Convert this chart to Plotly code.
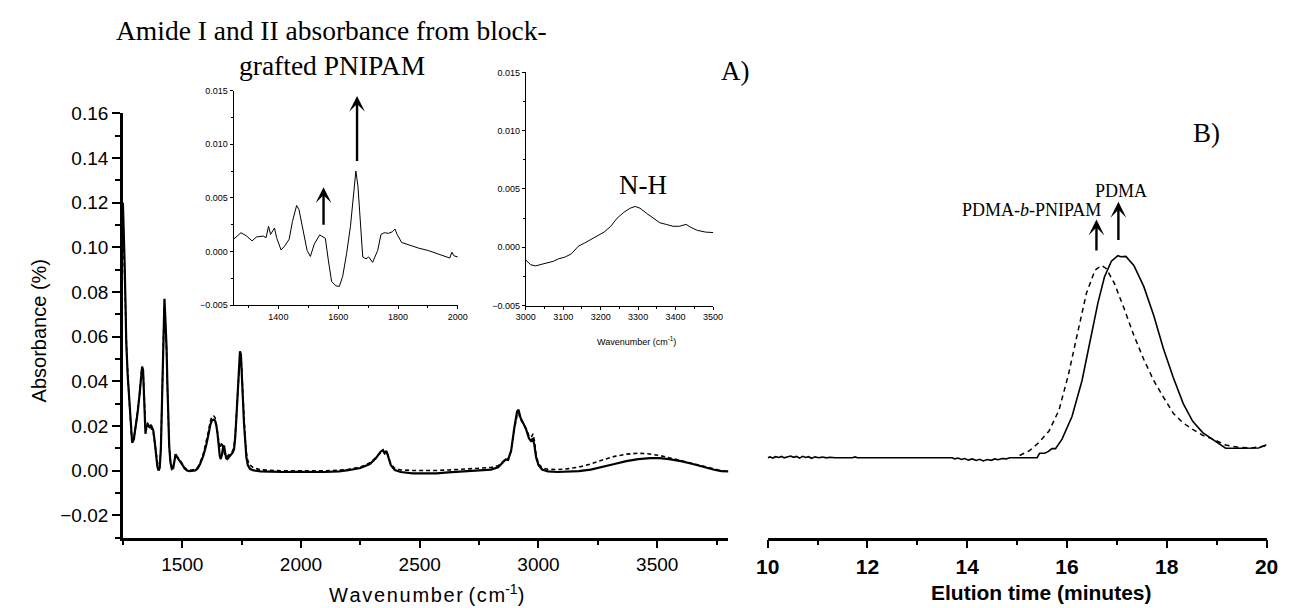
import plotly.graph_objects as go

W, H = 1292, 608

# ---------------- FTIR spectra (main panel A) ----------------
ir_wn_solid = [1250, 1254, 1257, 1261, 1264, 1270, 1277, 1283, 1289, 1296, 1303, 1312, 1320, 1326,
               1331, 1335, 1339, 1343, 1345, 1350, 1356, 1362, 1368, 1373, 1378, 1384, 1389, 1395,
               1400, 1405, 1410, 1414, 1419, 1425, 1428, 1431, 1434, 1437, 1441, 1445, 1450, 1456,
               1462, 1467, 1472, 1477, 1482, 1489, 1495, 1502, 1510, 1520, 1530, 1545, 1555, 1565,
               1575, 1588, 1600, 1610, 1618, 1625, 1632, 1638, 1643, 1648, 1653, 1658, 1662, 1667,
               1672, 1676, 1680, 1685, 1690, 1697, 1705, 1712, 1718, 1723, 1728, 1733, 1738, 1743,
               1747, 1751, 1755, 1760, 1765, 1770, 1776, 1785, 1800, 1830, 1870, 1920, 1980, 2040,
               2100, 2160, 2200, 2250, 2290, 2315, 2335, 2345, 2352, 2360, 2368, 2378, 2395, 2420,
               2470, 2520, 2570, 2620, 2680, 2740, 2800, 2830, 2850, 2862, 2872, 2885, 2898, 2910,
               2916, 2925, 2935, 2948, 2960, 2970, 2976, 2982, 2990, 3000, 3015, 3040, 3080, 3120,
               3170, 3220, 3270, 3320, 3370, 3420, 3470, 3510, 3550, 3600, 3650, 3700, 3740, 3770,
               3800]
ir_abs_solid = [0.120, 0.108, 0.094, 0.075, 0.058, 0.043, 0.030, 0.019, 0.0125, 0.014, 0.019, 0.026,
                0.034, 0.043, 0.0466, 0.045, 0.036, 0.020, 0.0165, 0.0205, 0.0198, 0.0195, 0.0205,
                0.0195, 0.0180, 0.013, 0.0076, 0.002, 0.0001, 0.0012, 0.010, 0.0275, 0.050, 0.077,
                0.070, 0.064, 0.055, 0.040, 0.024, 0.011, 0.004, 0.0008, 0.0012, 0.004, 0.0074,
                0.0062, 0.0055, 0.0046, 0.0036, 0.0024, 0.0010, 0.0001, -0.0002, -0.0001, 0.0001,
                0.001, 0.003, 0.0065, 0.011, 0.016, 0.0205, 0.0225, 0.0228, 0.0225, 0.0205, 0.017,
                0.011, 0.0065, 0.0052, 0.007, 0.0105, 0.0112, 0.0085, 0.0055, 0.0052, 0.0062, 0.0072,
                0.008, 0.0095, 0.015, 0.024, 0.035, 0.047, 0.0535, 0.052, 0.045, 0.033, 0.021, 0.012,
                0.006, 0.0025, 0.0008, 0.0001, -0.0003, -0.0004, -0.0006, -0.0005, -0.0007, -0.0006,
                -0.0003, 0.0002, 0.0012, 0.0030, 0.0055, 0.0085, 0.0092, 0.0078, 0.0088, 0.0060,
                0.0025, 0.0003, -0.0006, -0.0012, -0.0013, -0.0012, -0.0008, -0.0004, -0.0001,
                0.0005, 0.0015, 0.0035, 0.0050, 0.0048, 0.0090, 0.0190, 0.0265, 0.0273, 0.0235,
                0.0215, 0.0185, 0.0145, 0.0130, 0.0145, 0.0120, 0.0060, 0.0025, 0.0005, -0.0003,
                -0.0006, -0.0005, -0.0002, 0.0005, 0.0016, 0.0030, 0.0043, 0.0052, 0.0056, 0.0056,
                0.0052, 0.0043, 0.0030, 0.0015, 0.0004, -0.0002, -0.0003]

ir_wn_dashed = [1250, 1254, 1258, 1262, 1266, 1272, 1279, 1285, 1290, 1297, 1304, 1313, 1321, 1327,
                1331, 1335, 1339, 1343, 1346, 1350, 1356, 1362, 1368, 1373, 1378, 1384, 1389, 1395,
                1400, 1405, 1410, 1414, 1419, 1424, 1428, 1431, 1434, 1437, 1441, 1445, 1450, 1456,
                1462, 1467, 1472, 1477, 1482, 1489, 1495, 1502, 1510, 1520, 1530, 1545, 1555, 1565,
                1575, 1588, 1600, 1610, 1618, 1625, 1632, 1638, 1643, 1648, 1653, 1658, 1662, 1666,
                1670, 1675, 1680, 1685, 1690, 1697, 1705, 1712, 1718, 1723, 1728, 1733, 1738, 1743,
                1747, 1751, 1755, 1760, 1765, 1770, 1776, 1785, 1800, 1830, 1870, 1920, 1980, 2040,
                2100, 2160, 2200, 2250, 2290, 2315, 2335, 2345, 2352, 2360, 2368, 2378, 2395, 2420,
                2470, 2520, 2570, 2620, 2680, 2740, 2800, 2830, 2850, 2862, 2872, 2885, 2898, 2910,
                2916, 2925, 2935, 2948, 2960, 2970, 2977, 2983, 2990, 3000, 3015, 3040, 3080, 3120,
                3170, 3220, 3270, 3320, 3370, 3420, 3460, 3510, 3550, 3600, 3650, 3700, 3740, 3770,
                3800]
ir_abs_dashed = [0.115, 0.098, 0.082, 0.066, 0.053, 0.040, 0.027, 0.017, 0.0135, 0.0155, 0.020, 0.027,
                 0.035, 0.0435, 0.046, 0.0445, 0.035, 0.019, 0.018, 0.0215, 0.021, 0.019, 0.0195,
                 0.018, 0.017, 0.0125, 0.0078, 0.0025, 0.0004, 0.0015, 0.0105, 0.028, 0.051, 0.073,
                 0.068, 0.062, 0.053, 0.039, 0.024, 0.011, 0.0045, 0.0012, 0.0015, 0.0045, 0.0076,
                 0.0066, 0.006, 0.005, 0.004, 0.0028, 0.0014, 0.0005, 0.0003, 0.0004, 0.0006, 0.0015,
                 0.0035, 0.0072, 0.0122, 0.0175, 0.022, 0.0243, 0.0245, 0.0238, 0.021, 0.0175, 0.0125,
                 0.010, 0.011, 0.0128, 0.0112, 0.0082, 0.0068, 0.0062, 0.0064, 0.0072, 0.008, 0.0088,
                 0.0105, 0.0155, 0.0245, 0.035, 0.046, 0.052, 0.051, 0.045, 0.034, 0.0225, 0.014,
                 0.008, 0.0045, 0.0025, 0.0012, 0.0004, 0.0001, -0.0001, -0.0001, -0.0002, -0.0001,
                 0.0002, 0.0006, 0.0016, 0.0035, 0.0058, 0.0082, 0.0090, 0.0080, 0.0086, 0.0062,
                 0.0030, 0.0010, 0.0003, 0.0001, 0.0, 0.0001, 0.0003, 0.0006, 0.0009, 0.0014, 0.0022,
                 0.0040, 0.0052, 0.0050, 0.0088, 0.0180, 0.0250, 0.0258, 0.0228, 0.0212, 0.0188,
                 0.0155, 0.0150, 0.0165, 0.0135, 0.0070, 0.0032, 0.0012, 0.0006, 0.0005, 0.0008,
                 0.0016, 0.0030, 0.0048, 0.0064, 0.0074, 0.0078, 0.0076, 0.0068, 0.0058, 0.0045,
                 0.0030, 0.0016, 0.0006, 0.0, -0.0002]

# ---------------- inset: amide I / II region ----------------
amide_wn = [1250, 1275, 1294, 1312, 1327, 1349, 1359, 1367, 1374, 1387, 1394, 1409, 1422, 1436,
            1447, 1461, 1469, 1483, 1496, 1507, 1520, 1538, 1549, 1557, 1567, 1578, 1593, 1604,
            1615, 1628, 1641, 1650, 1659, 1666, 1675, 1682, 1693, 1702, 1715, 1732, 1743, 1754,
            1768, 1781, 1790, 1797, 1812, 1836, 1868, 1901, 1934, 1962, 1973, 1980, 1987, 2000]
amide_abs = [0.00115, 0.00176, 0.00145, 0.0010, 0.00136, 0.00145, 0.0013, 0.00236, 0.0016, 0.0022,
             0.0013, 0.00015, 0.00055, 0.00115, 0.0028, 0.0043, 0.0039, 0.0019, 0.0001, -0.00045,
             0.0007, 0.00155, 0.00136, 0.00124, -0.0008, -0.0028, -0.0032, -0.00324, -0.0023,
             -0.0002, 0.00236, 0.0052, 0.0075, 0.0061, 0.0025, -0.0005, -0.00067, -0.0005, -0.0010,
             0.0001, 0.0016, 0.00176, 0.0017, 0.00185, 0.0021, 0.0016, 0.00085, 0.0006, 0.00033,
             0.0001, -0.0002, -0.0005, -0.0006, -0.00006, -0.0004, -0.0005]

# ---------------- inset: N-H stretch region ----------------
nh_wn = [3000, 3013, 3026, 3044, 3061, 3074, 3087, 3105, 3122, 3140, 3157, 3175, 3192, 3209, 3227,
         3244, 3262, 3279, 3292, 3305, 3323, 3340, 3358, 3375, 3393, 3410, 3428, 3441, 3458, 3480,
         3500]
nh_abs = [-0.0011, -0.0015, -0.0016, -0.00145, -0.0013, -0.0012, -0.0010, -0.00084, -0.00056,
          0.00008, 0.00036, 0.0007, 0.0010, 0.0013, 0.0018, 0.0025, 0.0030, 0.00335, 0.0035,
          0.00335, 0.0029, 0.0025, 0.0021, 0.00196, 0.0018, 0.0018, 0.00196, 0.0017, 0.00145,
          0.0013, 0.00126]

# ---------------- GPC traces (panel B) ----------------
gpc_t_pdma = [10.00, 10.05, 10.10, 10.16, 10.22, 10.28, 10.33, 10.40, 10.46, 10.52, 10.58, 10.64,
              10.70, 10.76, 10.82, 10.88, 10.95, 11.02, 11.10, 11.18, 11.25, 11.35, 11.70, 11.75,
              11.80, 13.70, 13.75, 13.82, 13.88, 13.95, 14.02, 14.10, 14.18, 14.25, 14.32, 14.40,
              14.48, 14.55, 14.62, 14.70, 14.78, 14.85, 15.40, 15.45, 15.55, 15.62, 15.70, 15.77,
              15.90, 16.10, 16.30, 16.46, 16.62, 16.75, 16.89, 17.02, 17.08, 17.18, 17.34, 17.54,
              17.74, 17.93, 18.13, 18.33, 18.52, 18.72, 18.92, 19.08, 19.18, 19.51, 19.84, 20.00]
gpc_i_pdma = [0.000, 0.004, -0.002, 0.005, 0.001, 0.006, -0.001, 0.004, 0.008, 0.002, 0.006, -0.002,
              0.007, 0.001, 0.005, -0.003, 0.004, 0.000, 0.003, -0.001, 0.002, 0.000, 0.000, 0.004,
              0.000, 0.000, -0.006, -0.002, -0.009, -0.004, -0.012, -0.006, -0.014, -0.008, -0.016,
              -0.009, -0.013, -0.006, -0.010, -0.004, -0.006, 0.000, 0.000, 0.022, 0.022, 0.030,
              0.045, 0.045, 0.092, 0.204, 0.381, 0.574, 0.767, 0.895, 0.973, 1.000, 0.995, 0.997,
              0.952, 0.847, 0.703, 0.542, 0.397, 0.268, 0.180, 0.124, 0.092, 0.063, 0.047, 0.047,
              0.048, 0.064]

gpc_t_block = [15.05, 15.25, 15.44, 15.64, 15.84, 16.03, 16.23, 16.39, 16.56, 16.69, 16.79, 16.95,
               17.15, 17.34, 17.54, 17.74, 17.93, 18.13, 18.33, 18.52, 18.72, 18.92, 19.18, 19.44,
               19.70, 20.00]
gpc_i_block = [0.011, 0.035, 0.076, 0.132, 0.236, 0.413, 0.638, 0.815, 0.928, 0.952, 0.936, 0.863,
               0.735, 0.606, 0.486, 0.381, 0.301, 0.220, 0.172, 0.140, 0.111, 0.092, 0.063, 0.051,
               0.048, 0.059]


def px(x):
    return x / W


def py(y):
    return 1 - y / H


SANS = "Liberation Sans, Arial, sans-serif"
NARROW = "Liberation Sans Narrow, Arial Narrow, Liberation Sans, sans-serif"
SERIF = "Liberation Serif, Times New Roman, serif"

fig = go.Figure()

fig.add_trace(go.Scatter(x=ir_wn_dashed, y=ir_abs_dashed, mode="lines", xaxis="x", yaxis="y",
                         line=dict(color="black", width=1.6, dash="4px,3px")))
fig.add_trace(go.Scatter(x=ir_wn_solid, y=ir_abs_solid, mode="lines", xaxis="x", yaxis="y",
                         line=dict(color="black", width=2.2)))

fig.add_trace(go.Scatter(x=gpc_t_block, y=gpc_i_block, mode="lines", xaxis="x2", yaxis="y2",
                         line=dict(color="black", width=1.5, dash="5px,4px")))
fig.add_trace(go.Scatter(x=gpc_t_pdma, y=gpc_i_pdma, mode="lines", xaxis="x2", yaxis="y2",
                         line=dict(color="black", width=1.6)))

fig.add_trace(go.Scatter(x=amide_wn, y=amide_abs, mode="lines", xaxis="x3", yaxis="y3",
                         line=dict(color="black", width=1)))
fig.add_trace(go.Scatter(x=nh_wn, y=nh_abs, mode="lines", xaxis="x4", yaxis="y4",
                         line=dict(color="black", width=1)))

main_axis = dict(showline=True, linecolor="black", linewidth=2.5, ticks="outside",
                 tickcolor="black", tickwidth=2, showgrid=False, zeroline=False,
                 tickfont=dict(family=SANS, size=19, color="black"))
inset_axis = dict(showline=True, linecolor="black", linewidth=1, ticks="outside",
                  tickcolor="black", tickwidth=1, ticklen=3, showgrid=False, zeroline=False,
                  tickfont=dict(family=NARROW, size=9, color="black"))

fig.update_layout(
    width=W, height=H,
    margin=dict(l=0, r=0, t=0, b=0),
    paper_bgcolor="white", plot_bgcolor="rgba(0,0,0,0)",
    showlegend=False,
    xaxis=dict(main_axis, domain=[px(113), px(730)], range=[1250, 3800], anchor="y",
               tick0=1500, dtick=500, ticklen=8,
               minor=dict(tick0=1250, dtick=250, ticklen=5, tickwidth=2, ticks="outside",
                          tickcolor="black")),
    yaxis=dict(main_axis, domain=[py(541), py(106)], range=[-0.03, 0.16], anchor="x",
               tick0=0, dtick=0.02, tickformat=".2f", ticklen=8,
               minor=dict(dtick=0.01, ticklen=5, tickwidth=2, ticks="outside", tickcolor="black")),
    xaxis2=dict(main_axis, domain=[px(770), px(1278.3)], range=[10, 20], anchor="y2",
                tick0=10, dtick=2, ticklen=8,
                tickfont=dict(family=SANS, size=21, color="black", weight="bold"),
                minor=dict(dtick=1, ticklen=5, tickwidth=2, ticks="outside", tickcolor="black")),
    yaxis2=dict(domain=[py(541), py(106)], range=[-0.396, 1.705], anchor="x2", visible=False),
    xaxis3=dict(inset_axis, domain=[px(225.7), px(454.3)], range=[1250, 2000], anchor="y3",
                tick0=1400, dtick=200,
                minor=dict(dtick=100, ticklen=2, ticks="outside", tickcolor="black")),
    yaxis3=dict(inset_axis, domain=[py(302.7), py(82.7)], range=[-0.005, 0.015], anchor="x3",
                tick0=0, dtick=0.005, tickformat=".3f",
                minor=dict(dtick=0.0025, ticklen=2, ticks="outside", tickcolor="black")),
    xaxis4=dict(inset_axis, domain=[px(523.5), px(714.3)], range=[3000, 3500], anchor="y4",
                tick0=3000, dtick=100,
                minor=dict(dtick=50, ticklen=2, ticks="outside", tickcolor="black")),
    yaxis4=dict(inset_axis, domain=[py(303), py(64)], range=[-0.005, 0.015], anchor="x4",
                tick0=0, dtick=0.005, tickformat=".3f",
                minor=dict(dtick=0.0025, ticklen=2, ticks="outside", tickcolor="black")),
)

hs = "\u200a"
wavenumber_title = hs.join("Wavenumber") + " " + hs.join("(cm") + "<sup>-1</sup>)"

annotations = [
    dict(text="Amide I and II absorbance from block-", x=px(326), y=py(21),
         font=dict(family=SERIF, size=27.5, color="black")),
    dict(text="grafted PNIPAM", x=px(326), y=py(57),
         font=dict(family=SERIF, size=27.5, color="black")),
    dict(text="A)", x=px(737), y=py(63), font=dict(family=SERIF, size=27, color="black")),
    dict(text="B)", x=px(1217), y=py(126), font=dict(family=SERIF, size=27, color="black")),
    dict(text="N-H", x=px(643), y=py(179), font=dict(family=SERIF, size=27, color="black")),
    dict(text="PDMA", x=px(1130), y=py(186), font=dict(family=SERIF, size=18, color="black")),
    dict(text="PDMA-<i>b</i>-PNIPAM", x=px(1112), y=py(205), xanchor="right",
         font=dict(family=SERIF, size=18, color="black")),
    dict(text="Absorbance (%)", x=px(27), y=py(329), textangle=-90,
         font=dict(family=SANS, size=20, color="black")),
    dict(text=wavenumber_title, x=px(422), y=py(598),
         font=dict(family=SANS, size=20, color="black")),
    dict(text="<b>Elution time (minutes)</b>", x=px(1049), y=py(597),
         font=dict(family=SANS, size=21, color="black")),
    dict(text="Wavenumber (cm<sup>-1</sup>)", x=px(636), y=py(339),
         font=dict(family=NARROW, size=9, color="black")),
]
for a in annotations:
    a.setdefault("xanchor", "center")
    a.update(xref="paper", yref="paper", yanchor="middle", showarrow=False)

# arrows marking the amide bands and the GPC peak maxima (tip, tail)
arrows = [
    dict(xref="x3", yref="y3", x=1551, y=0.0060, ax=1551, ay=0.00236, axref="x3", ayref="y3"),
    dict(xref="x3", yref="y3", x=1663, y=0.0145, ax=1663, ay=0.0083, axref="x3", ayref="y3"),
    dict(xref="x2", yref="y2", x=17.03, y=1.267, ax=17.03, ay=1.071, axref="x2", ayref="y2"),
    dict(xref="x2", yref="y2", x=16.59, y=1.179, ax=16.59, ay=1.018, axref="x2", ayref="y2"),
]
for a in arrows:
    a.update(text="", showarrow=True, arrowhead=3, arrowsize=1.1, arrowwidth=2.4,
             arrowcolor="black", standoff=0, startstandoff=0)

fig.update_layout(annotations=annotations + arrows)

fig.write_html("out.html", config={"displayModeBar": False})
